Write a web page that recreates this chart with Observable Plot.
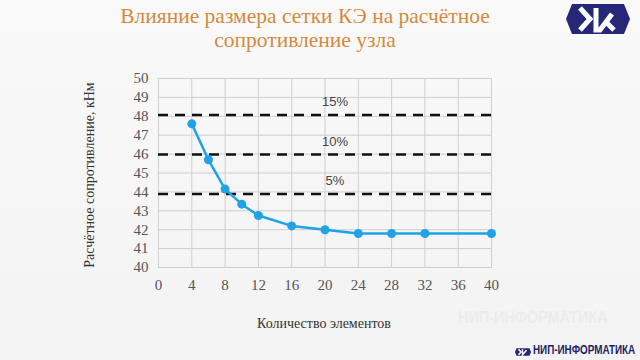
<!DOCTYPE html>
<html><head><meta charset="utf-8">
<script src="https://cdn.jsdelivr.net/npm/d3@7"></script>
<script src="https://cdn.jsdelivr.net/npm/@observablehq/plot@0.6"></script>
<style>
html,body{margin:0;padding:0;width:640px;height:360px;overflow:hidden;background:linear-gradient(#f9f9f9,#f3f3f3);}
#title{position:absolute;left:0;width:610px;top:4px;text-align:center;font-family:"Liberation Serif",serif;font-size:21.5px;line-height:24px;color:#d4893e;}
#chart{position:absolute;left:0;top:60px;}
#chart g[aria-label="x-axis tick label"] text, #chart g[aria-label="y-axis tick label"] text{font-family:"Liberation Serif",serif;}
#ylab{position:absolute;left:90px;top:175px;transform:translate(-50%,-50%) rotate(-90deg);font-family:"Liberation Serif",serif;font-size:14px;color:#333;white-space:nowrap;}
#xlab{position:absolute;left:324px;top:316px;transform:translateX(-50%);font-family:"Liberation Serif",serif;font-size:14px;color:#333;white-space:nowrap;}
#wm{position:absolute;left:458px;top:309px;font-family:"Liberation Sans",sans-serif;font-weight:bold;font-size:16px;color:#ececec;white-space:nowrap;transform-origin:0 0;transform:scaleX(0.9);}
#brand{position:absolute;left:533px;top:343px;font-family:"Liberation Sans",sans-serif;font-weight:bold;font-size:12px;color:#1c2466;white-space:nowrap;transform-origin:0 0;transform:scaleX(0.82);}
</style></head>
<body>
<div id="title">Влияние размера сетки КЭ на расчётное<br>сопротивление узла</div>
<div id="chart"></div>
<div id="ylab">Расчётное сопротивление, кНм</div>
<div id="xlab">Количество элементов</div>
<div id="wm">НИП-ИНФОРМАТИКА</div>
<div id="brand">НИП-ИНФОРМАТИКА</div>
<svg style="position:absolute;left:566px;top:4px" width="64" height="30" viewBox="0 0 64 30">
<polygon points="6,0 58,0 64,15 58,30 6,30 0,15" fill="#27277a"/>
<polyline points="14,4 24,15 14,26" fill="none" stroke="#fff" stroke-width="5"/>
<polyline points="30,4 30,26 34,26 46,10" fill="none" stroke="#fff" stroke-width="5"/>
<polyline points="40,18 48,26" fill="none" stroke="#fff" stroke-width="5"/>
</svg>
<svg style="position:absolute;left:515px;top:346px" width="16" height="12" viewBox="0 0 64 30">
<polygon points="6,0 58,0 64,15 58,30 6,30 0,15" fill="#27277a"/>
<polyline points="14,4 24,15 14,26" fill="none" stroke="#fff" stroke-width="6"/>
<polyline points="30,4 30,26 46,8" fill="none" stroke="#fff" stroke-width="6"/>
</svg>
<script>
const elements = [4, 6, 8, 10, 12, 16, 20, 24, 28, 32, 40];
const resistance = [47.6, 45.7, 44.15, 43.35, 42.75, 42.2, 42.0, 41.8, 41.8, 41.8, 41.8];
const limitValues = [48.07, 45.98, 43.89];
const limitLabels = ["15%", "10%", "5%"];
const xTicks = [0, 4, 8, 12, 16, 20, 24, 28, 32, 36, 40];
const yTicks = [40, 41, 42, 43, 44, 45, 46, 47, 48, 49, 50];

const pts = elements.map((x, i) => ({x, y: resistance[i]}));
const limits = limitValues.map((v, i) => ({v, label: limitLabels[i]}));
const serif = "'Liberation Serif', serif";

const plot = Plot.plot({
  width: 640,
  height: 250,
  marginLeft: 158,
  marginRight: 149,
  marginTop: 18,
  marginBottom: 43,
  style: {background: "transparent", fontFamily: serif, fontSize: "15px", color: "#555"},
  x: {domain: [0, 40], ticks: xTicks, label: null},
  y: {domain: [40, 50], ticks: yTicks, label: null},
  marks: [
    Plot.gridX(xTicks, {stroke: "#cfcfcf", strokeOpacity: 1}),
    Plot.gridY(yTicks, {stroke: "#cfcfcf", strokeOpacity: 1}),
    Plot.frame({stroke: "#cfcfcf"}),
    Plot.axisX(xTicks, {tickSize: 0, tickPadding: 12, fill: "#555", fontFamily: serif, fontSize: 15}),
    Plot.axisY(yTicks, {tickSize: 0, tickPadding: 10, fill: "#555", fontFamily: serif, fontSize: 15}),
    Plot.ruleY(limits, {y: "v", stroke: "#111", strokeWidth: 2.6, strokeDasharray: "10,7"}),
    Plot.text(limits, {x: 21.2, y: "v", text: "label", dy: -13, fontFamily: "'Liberation Sans', sans-serif", fontSize: 13, fill: "#444"}),
    Plot.line(pts, {x: "x", y: "y", stroke: "#1fa3e6", strokeWidth: 2.5}),
    Plot.dot(pts, {x: "x", y: "y", r: 4.5, fill: "#1fa3e6", stroke: "none"})
  ]
});
document.getElementById("chart").appendChild(plot);
</script>
</body></html>
